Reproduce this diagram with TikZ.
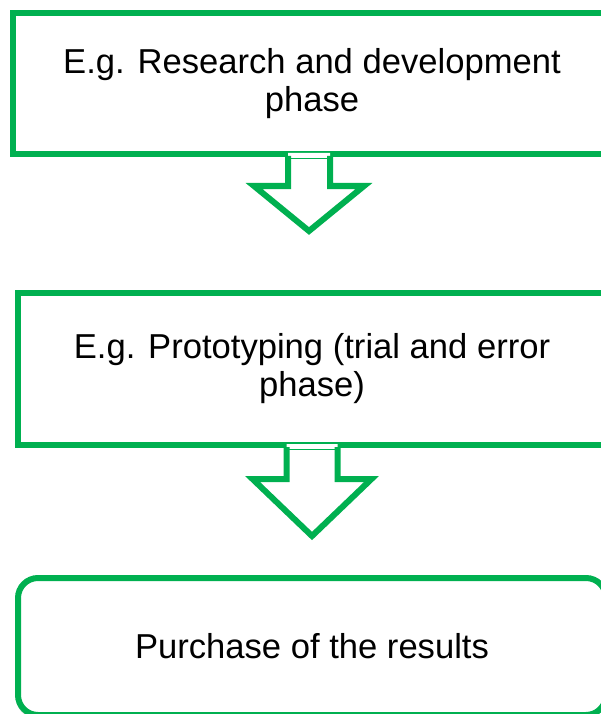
\documentclass[tikz,border=0pt]{standalone}
\usepackage{fontspec}
\setmainfont{Liberation Sans}
\usetikzlibrary{positioning,calc,shadows}
\definecolor{officegreen}{RGB}{0,176,80}

\begin{document}
\begin{tikzpicture}[x=1pt,y=-1pt,
    every node/.style={on grid,font=\fontsize{34.6}{38}\selectfont},
    stage/.style={draw=officegreen,line width=6pt,fill=white,align=center,minimum height=141,
      drop shadow={shadow xshift=-2pt,shadow yshift=-3pt,opacity=0.3}},
    buyer/.style={stage,rounded corners=20pt},
    flowarrow/.style={draw=officegreen,line width=6pt},
    seam/.style={draw=officegreen,line width=0.8pt}]
  \useasboundingbox (0,0) rectangle (601,714);
  \node[stage,minimum width=598] (rd) at (312,83.5) {E.g. Research and development\\phase};
  \node[stage,minimum width=588,minimum height=152,below=285.5pt of rd] (proto) {E.g. Prototyping (trial and error\\phase)};
  \node[buyer,minimum width=588,minimum height=137,below=277.5pt of proto] (buy) {Purchase of the results};
  % hollow arrow rd -> proto
  \coordinate (a1) at ([xshift=-3pt]rd.south);
  \fill[white] (a1) ++(-21,-4) -- ++(0,33) -- ++(-34,0) -- ++(55,45) -- ++(55,-45) -- ++(-34,0) -- ++(0,-33) -- cycle;
  \draw[flowarrow] (a1) ++(-21,-1) -- ++(0,30) -- ++(-34,0) -- ++(55,45) -- ++(55,-45) -- ++(-34,0) -- ++(0,-30);
  \draw[seam] (a1) ++(-21,1) -- ++(42,0);
  % hollow arrow proto -> buy
  \coordinate (a2) at (proto.south);
  \fill[white] (a2) ++(-25.5,-4) -- ++(0,35) -- ++(-34,0) -- ++(59.5,57) -- ++(59.5,-57) -- ++(-34,0) -- ++(0,-35) -- cycle;
  \draw[flowarrow] (a2) ++(-25.5,-1) -- ++(0,32) -- ++(-34,0) -- ++(59.5,57) -- ++(59.5,-57) -- ++(-34,0) -- ++(0,-32);
  \draw[seam] (a2) ++(-25.5,1) -- ++(51,0);
\end{tikzpicture}
\end{document}
